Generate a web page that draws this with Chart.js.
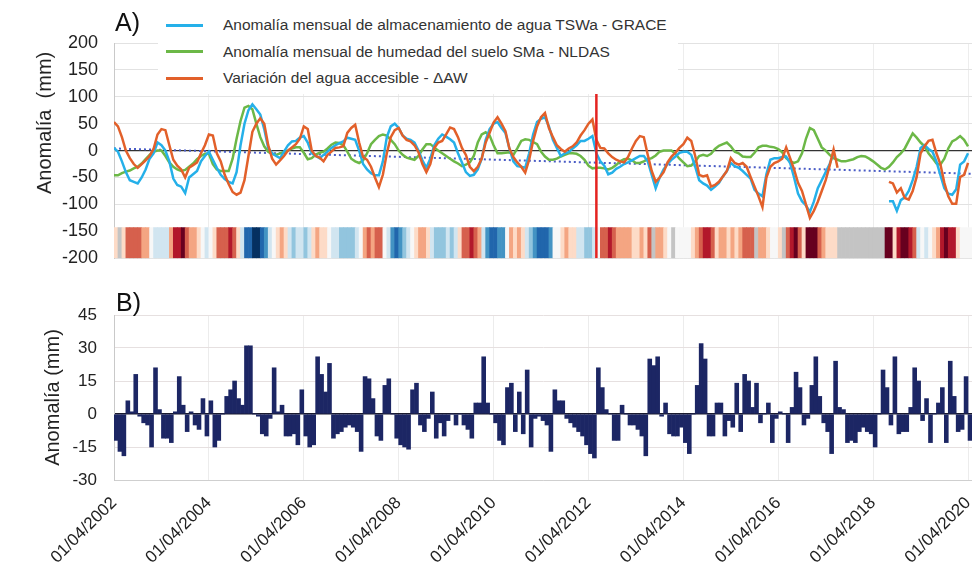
<!DOCTYPE html>
<html>
<head>
<meta charset="utf-8">
<script src="https://cdn.jsdelivr.net/npm/chart.js@4"></script>
<style>
  html, body { margin: 0; padding: 0; background: #fff; }
  #wrap { position: relative; width: 972px; height: 574px; overflow: hidden; font-family: "Liberation Sans", Arial, sans-serif; color: #222; }
  .box { position: absolute; left: 0; width: 972px; }
  .panel { position: absolute; font-size: 25px; line-height: 1; color: #111; }
  .ytitle { position: absolute; width: 24px; height: 200px; line-height: 24px; writing-mode: vertical-rl; transform: rotate(180deg); text-align: center; font-size: 20px; white-space: pre; color: #222; }
  #legend { position: absolute; left: 158px; top: 10px; width: 520px; background: #fff; padding: 2px 0; }
  .row { height: 26.5px; display: flex; align-items: center; font-size: 15.5px; color: #333; white-space: nowrap; }
  .swatch { width: 37px; height: 3px; margin: 0 20px 0 8px; flex: none; }
</style>
</head>
<body>
<div id="wrap">
  <div class="box" style="top:0;height:285px"><canvas id="topChart" width="972" height="285"></canvas></div>
  <div class="box" style="top:285px;height:289px"><canvas id="bottomChart" width="972" height="289"></canvas></div>
  <div class="panel" style="left:115px;top:10px">A)</div>
  <div class="panel" style="left:116px;top:290px">B)</div>
  <div class="ytitle" style="left:32px;top:23px">Anomalía  (mm)</div>
  <div id="legend"></div>
</div>
<script>
// monthly values, April 2002 .. April 2020 (217 months)
const monthCount = 217;
const tickLabels = ["01/04/2002", "01/04/2004", "01/04/2006", "01/04/2008", "01/04/2010",
  "01/04/2012", "01/04/2014", "01/04/2016", "01/04/2018", "01/04/2020"];
const tickStep = 24;

const seriesNames = [
  "Anomalía mensual de almacenamiento de agua TSWa - GRACE",
  "Anomalía mensual de humedad del suelo SMa - NLDAS",
  "Variación del agua accesible - ΔAW"
];
const seriesColors = ["#25b0e9", "#6cb847", "#e2602a"];
const bottomTitle = "Anomalía (mm)";

const grace = [
  5, -2, -20, -40, -55, -58, -61, -50, -35, -15, -5, 15,
  10, 0, -20, -52, -64, -67, -79, -50, -44, -38, -20, -10,
  -2, -17, -32, -45, -53, -58, -61, -40, 10, 50, 75, 86,
  77, 67, 40, 5, -5, -10, -14, -2, 10, 17, 18, 24,
  27, 15, -5, -10, -14, -8, -2, 5, 10, 14, 17, 24,
  22, 20, 0, -25, -35, -42, -46, -46, -20, 25, 45, 50,
  42, 28, 22, 20, 15, 0, -18, -32, -15, 10, 22, 30,
  26, 21, 15, -5, -22, -40, -47, -45, -35, -15, 20, 40,
  50, 53, 42, 33, 4, -20, -29, -30, -32, -5, 30, 53,
  59, 62, 45, 20, 5, -10, -5, -3, 4, 10, 18, 18,
  22, 27, -5, -20, -28, -44, -41, -34, -30, -25, -22, -18,
  -14, -10, -10, -20, -45, -70, -50, -35, -25, -17, -11, -4,
  -2, -2, -8, -30, -55, -61, -65, -73, -67, -60, -48, -38,
  -23, -29, -32, -38, -45, -52, -73, -80, -85, -44, -17, -14,
  -14, -12, -11, -23, -50, -80, -94, -102, -114, -95, -70, -55,
  -40, -25, -5, null, null, null, null, null, null, null, null, null,
  null, null, null, null, -94, -94, -112, -92, -87, -75, -55, -30,
  5, 10, 3, -2, -20, -45, -70, -80, -82, -72, -26, -20,
  -5
];

const nldas = [
  -46, -46, -42, -39, -37, -33, -30, -24, -16, -8, -2, 0,
  0, -10, -22, -30, -35, -38, -36, -30, -24, -16, -10, -6,
  -6, -25, -35, -38, -38, -38, -15, 22, 55, 80, 83, 77,
  50, 25, 8, -2, -6, -8, -5, -2, 0, 4, 6, 6,
  -4, -16, -14, -8, -4, -2, 4, 11, 15, 14, 10, -2,
  -15, -20, -23, -18, -5, 12, 20, 27, 30, 28, 20, 12,
  0, -8, -13, -15, -17, -10, 2, 12, 12, 6, 0, -5,
  -10, -15, -20, -24, -29, -26, -22, -10, 15, 30, 34, 28,
  10, -5, -5, -4, -3, -8, 4, 18, 21, 20, 16, 12,
  -2, -11, -17, -17, -15, -11, -8, -5, -5, -6, -10, -17,
  -28, -33, -32, -32, -33, -35, -32, -27, -20, -16, -15, -18,
  -23, -23, -20, -16, -14, -9, -2, 0, 0, 0, -6, -15,
  -22, -29, -28, -20, -10, -8, -10, -6, 3, 9, 12, 15,
  8, -2, -5, -11, -12, -12, -4, 6, 9, 9, 7, 6,
  3, -3, -14, -20, -23, -20, -5, 22, 42, 38, 22, 6,
  0, -8, -14, -17, -20, -20, -18, -16, -12, -10, -11, -15,
  -20, -26, -32, -35, -30, -22, -12, -5, 4, 18, 32, 24,
  15, 8, -5, -14, -24, -26, -15, 4, 17, 21, 27, 20,
  8
];

const deltaAW = [
  53, 45, 25, 0, -14, -25, -32, -25, -18, -10, 3, 30,
  40, 38, 10, -17, -28, -35, -50, -32, -27, -22, -5, 10,
  30, 28, -5, -20, -45, -62, -77, -82, -78, -55, -10, 35,
  50, 60, 50, 10, -15, -26, -18, -10, 0, 6, 12, 22,
  45, 40, 0, -10, -13, -20, -8, -2, 5, 6, 8, 33,
  42, 48, 15, -12, -17, -30, -50, -68, -45, -5, 25, 38,
  42, 28, 20, 17, 10, -3, -25, -40, -25, 5, 15, 18,
  30, 43, 40, 25, 5, -8, -30, -38, -30, -15, 15, 33,
  52, 62, 50, 36, 4, -12, -22, -30, -41, -17, 18, 45,
  62, 70, 42, 25, 10, 3, -2, 4, 8, 15, 28, 38,
  50, 58, 20, 5, 4, -5, -12, -17, -20, -22, -12, 4,
  18, 27, 25, -8, -38, -58, -50, -40, -22, -11, -4, 5,
  12, 24, 18, -10, -45, -48, -46, -67, -64, -58, -48, -38,
  -14, -23, -26, -23, -30, -49, -67, -85, -105, -50, -30, -23,
  -20, -15, 6, -14, -35, -60, -75, -100, -125, -112, -95, -75,
  -55, -28, 2, -32, null, null, null, null, null, null, null, null,
  null, null, null, null, -58, -61, -78, -70, -88, -91, -75, -49,
  -5, 8, 18, 20, -5, -25, -60, -85, -99, -99, -49, -45,
  -23
];

// dotted linear trend, first and last month
const trendValues = [4, -43];

// vertical marker (June 2012)
const breakMonth = 122;
const breakRange = [-200, 112];

// colour strip: -5 very dry (dark red) .. 5 very wet (dark blue), null = no data
const stripeRange = [-200, -143];
const stripeLevels = [
  -1, null, -1, -3, -3, -3, -3, -2, -2, 0, 1, 1,
  1, 1, -2, -4, -4, -5, -3, -2, -2, -1, 0, 1,
  0, -1, -3, -3, -3, -4, -3, -1, 1, 4, 4, 5,
  5, 4, 3, 1, 0, -1, -2, -1, 1, 2, 1, 1,
  2, 1, -1, -2, -1, -1, 0, 1, 1, 2, 2, 2,
  2, 1, 0, -2, -3, -2, -3, -3, 0, 1, 3, 4,
  3, 2, 1, 0, -1, -2, -2, -1, 1, 2, 2, 2,
  1, 2, 1, -1, -3, -3, -4, -3, -2, 1, 3, 4,
  4, 3, 3, 0, -2, -1, -2, -1, 1, 2, 3, 4,
  4, 4, 3, 0, 0, -1, -2, -1, -1, 1, 1, 2,
  2, 1, 0, -3, -3, -4, -3, -2, -2, -2, -2, -1,
  -1, -2, -1, -3, null, -2, -2, -1, 0, null, 0, 0,
  0, 0, -1, -2, -3, -4, -4, -3, -1, -2, -2, -1,
  -2, -1, -2, -3, -3, -3, null, -2, -2, -1, 0, 0,
  -1, null, -3, -4, -5, -3, -1, -5, -5, -5, -3, -2,
  -1, -1, -1, null, null, null, null, null, null, null, null, null,
  null, null, null, -5, -5, -1, -4, -5, -5, -4, -3, 1,
  0, 1, 0, -1, -2, -4, -5, -4, -4, -1, 0, 0,
  0
];
const stripePalette = {
  "-5": "#67001f", "-4": "#b2182b", "-3": "#d6604d", "-2": "#f4a582", "-1": "#fddbc7",
  "0": "#f7f7f7", "1": "#d1e5f0", "2": "#92c5de", "3": "#4393c3", "4": "#2166ac", "5": "#053061"
};
const noDataColor = "#c4c4c4";

// panel B bars
const barValues = [
  -12, -17, -19, 6, 1, 18, -1, -4, -5, -15, 21, 2,
  -11, -11, -13, 1, 17, 4, -8, 1, -5, -7, 7, -10,
  6, -15, -12, 0, 8, 11, 15, 7, 4, 31, 31, 0,
  -1, -9, -10, -2, 21, 1, 4, -10, -10, -9, -14, 11,
  -10, -15, -14, 26, 18, 10, 23, -11, -9, -8, -6, -5,
  -6, -8, -17, 17, 16, 7, -10, -12, 13, 16, 0, -11,
  -14, -15, -16, 11, 14, -5, -8, -2, 10, -11, -4, -10,
  -3, 0, -5, 0, -5, -7, -11, 5, 5, 26, 5, 0,
  -4, -12, -14, 12, 14, -8, 10, -9, 20, -15, -2, -1,
  -3, -5, -17, 11, 6, 6, -2, -4, -6, -8, -10, -14,
  -18, -20, 21, 12, 2, 0, -12, -12, 4, 0, -5, -5,
  -7, -10, -19, 25, 22, 26, -1, 5, -9, -10, -10, -6,
  -13, -18, 0, 13, 32, 25, -10, -10, 5, 5, -10, -3,
  -6, 14, -8, 18, 15, 3, 14, -4, 0, 5, -13, -2,
  1, 0, -13, 3, 19, 12, -5, -2, 13, 26, 8, -4,
  -8, -18, 24, 3, 2, -13, -12, -13, -8, -6, -8, -9,
  -15, 0, 20, 12, -5, 26, -9, -8, -8, 3, 21, 15,
  -3, 7, -13, 0, 5, 12, -13, 24, 8, -8, -7, 17,
  -12
];
const barColor = "#1c2664";

const FONT = "'Liberation Sans', Arial, sans-serif";
Chart.defaults.font.family = FONT;
Chart.defaults.color = "#222";
Chart.defaults.animation = false;

const toPoints = (arr) => arr.map((v, i) => ({ x: i, y: v }));
const yearTicks = () => tickLabels.map((_, i) => ({ value: i * tickStep }));
// keep the plot area flush with the right edge, as in the original figure
const noSidePadding = (s) => { s.paddingLeft = 0; s.paddingRight = 0; };

// legend
const legend = document.getElementById("legend");
seriesNames.forEach((name, i) => {
  const row = document.createElement("div");
  row.className = "row";
  row.innerHTML = '<span class="swatch" style="background:' + seriesColors[i] + '"></span><span></span>';
  row.lastChild.textContent = name;
  legend.appendChild(row);
});

const lineStyle = { pointRadius: 0, borderWidth: 2.5, tension: 0, spanGaps: false, fill: false };

new Chart(document.getElementById("topChart"), {
  type: "line",
  data: {
    datasets: [
      { ...lineStyle, label: seriesNames[0], data: toPoints(grace), borderColor: seriesColors[0], order: 3 },
      { ...lineStyle, label: seriesNames[1], data: toPoints(nldas), borderColor: seriesColors[1], order: 4 },
      { ...lineStyle, label: seriesNames[2], data: toPoints(deltaAW), borderColor: seriesColors[2], order: 2 },
      {
        label: "tendencia", data: [{ x: 0, y: trendValues[0] }, { x: monthCount, y: trendValues[1] }],
        borderColor: "#4a5cc6", borderWidth: 2, borderDash: [2, 3], pointRadius: 0, order: 5
      },
      {
        label: "corte", data: [{ x: breakMonth, y: breakRange[0] }, { x: breakMonth, y: breakRange[1] }],
        borderColor: "#e42320", borderWidth: 2.5, pointRadius: 0, order: 1
      },
      {
        type: "bar", label: "franja",
        data: stripeLevels.map((v, i) => ({ x: i + 0.5, y: stripeRange })),
        backgroundColor: stripeLevels.map((v) => (v === null ? noDataColor : stripePalette[v])),
        barPercentage: 1, categoryPercentage: 1, borderWidth: 0, order: 6
      }
    ]
  },
  options: {
    responsive: false,
    devicePixelRatio: 1,
    layout: { padding: { top: 43, bottom: 14, left: 0, right: 0 } },
    plugins: { legend: { display: false }, tooltip: { enabled: false } },
    scales: {
      x: {
        type: "linear", min: 0, max: monthCount, offset: false,
        afterBuildTicks: (s) => { s.ticks = yearTicks(); },
        ticks: { display: false },
        grid: { color: "#ededed", drawTicks: false, offset: false },
        border: { display: false },
        afterFit: (s) => { s.height = 0; noSidePadding(s); }
      },
      y: {
        min: -200, max: 200,
        ticks: { stepSize: 50, padding: 16, font: { size: 18 }, color: "#222" },
        grid: {
          drawTicks: false,
          color: (c) => (c.tick.value === 0 ? "#333" : "#e2e2e2"),
          lineWidth: (c) => (c.tick.value === 0 ? 1.3 : 1)
        },
        border: { color: "#c9c9c9" },
        afterFit: (s) => { s.width = 114; }
      }
    }
  }
});

new Chart(document.getElementById("bottomChart"), {
  type: "bar",
  data: {
    datasets: [{
      label: "B", data: barValues.map((v, i) => ({ x: i + 0.5, y: v })),
      backgroundColor: barColor, barPercentage: 1, categoryPercentage: 1, borderWidth: 0
    }]
  },
  options: {
    responsive: false,
    devicePixelRatio: 1,
    layout: { padding: { top: 30, bottom: 0, left: 0, right: 0 } },
    plugins: { legend: { display: false }, tooltip: { enabled: false } },
    scales: {
      x: {
        type: "linear", min: 0, max: monthCount, offset: false,
        afterBuildTicks: (s) => { s.ticks = yearTicks(); },
        ticks: {
          minRotation: 45, maxRotation: 45, autoSkip: false, padding: 13,
          font: { size: 17 }, color: "#222",
          callback: (v) => tickLabels[Math.round(v / tickStep)]
        },
        grid: { color: "#ececec", drawTicks: false, offset: false },
        border: { color: "#cfcfcf" },
        afterFit: (s) => { s.height = 94; noSidePadding(s); }
      },
      y: {
        min: -30, max: 45,
        title: {
          display: true, text: bottomTitle, color: "#222",
          font: { size: 20 }, padding: { top: 41, bottom: 0 }
        },
        ticks: { stepSize: 15, padding: 17, font: { size: 17 }, color: "#222" },
        grid: {
          drawTicks: false,
          color: (c) => (c.tick.value === 0 ? "#1a1a2e" : "#e6e0e0"),
          lineWidth: (c) => (c.tick.value === 0 ? 1.5 : 1)
        },
        border: { color: "#c9c9c9" },
        afterFit: (s) => { s.width = 114; }
      }
    }
  }
});
</script>
</body>
</html>
